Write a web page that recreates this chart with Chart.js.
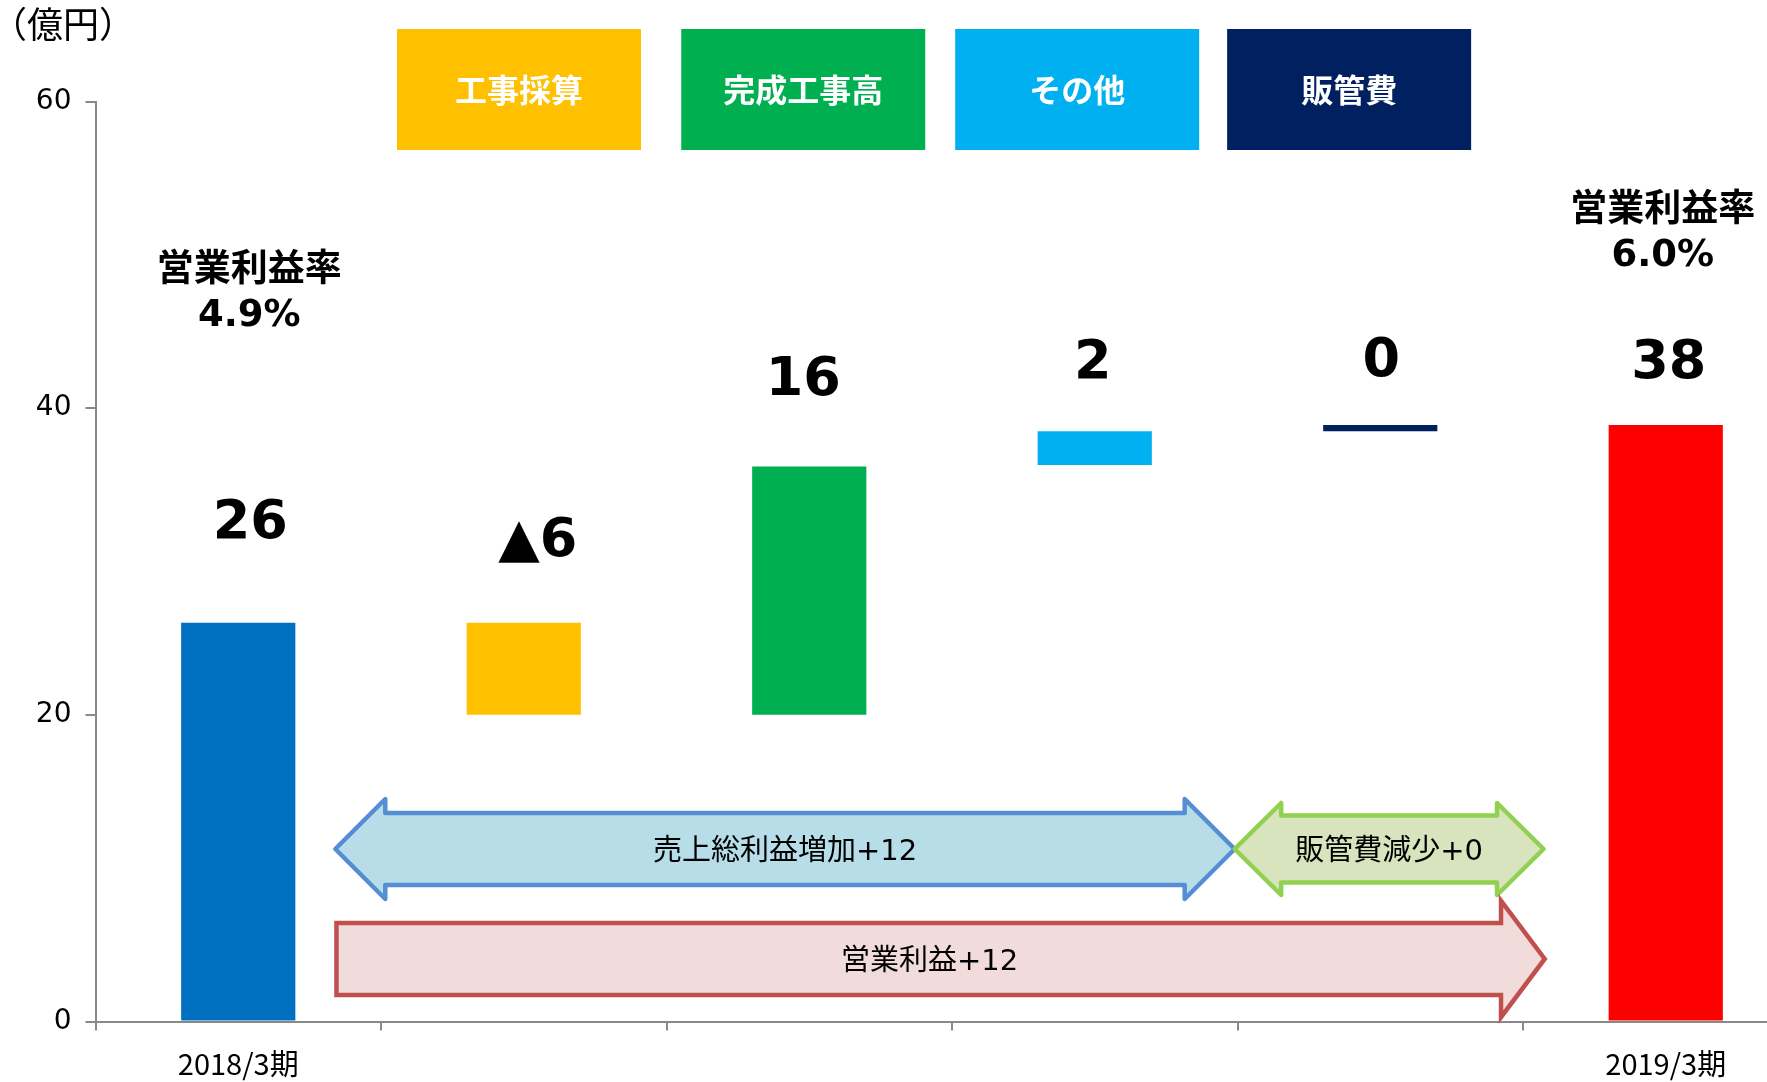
<!DOCTYPE html>
<html lang="ja">
<head>
<meta charset="utf-8">
<title>営業利益 増減要因</title>
<script src="https://cdn.jsdelivr.net/npm/chart.js@4.4.1/dist/chart.umd.min.js"></script>
<style>
  html, body { margin: 0; padding: 0; background: #fff; overflow: hidden; }
  #wrap { width: 1767px; height: 1082px; overflow: hidden; position: relative; }
  canvas { display: block; }
</style>
</head>
<body>
<div id="wrap"><canvas id="chart" width="1810" height="1082"></canvas></div>
<script>
// Categories on the x axis
const categories = ['2018/3期', '工事採算', '完成工事高', 'その他', '販管費', '2019/3期'];
// Floating bar ranges (億円)
const barLow  = [0, 20, 20, 36.3, 38.5, 0];
const barHigh = [26, 26, 36.2, 38.5, 38.9, 38.9];
const barColors = ['#0070C0', '#FFC000', '#00B050', '#00B0F0', '#002060', '#FF0000'];
// Value labels above each bar
const valueLabels = ['26', '▲6', '16', '2', '0', '38'];
// Y axis ticks
const yTicks = [0, 20, 40, 60];
// Header boxes for the four factors
const legendNames = categories.slice(1, 5);
const legendColors = barColors.slice(1, 5);
// Operating margin for first / last period
const marginTitle = '営業利益率';
const marginValues = ['4.9%', '6.0%'];
// Arrow captions
const arrowTexts = ['売上総利益増加+12', '販管費減少+0', '営業利益+12'];

// --- layout (category units on x, 億円 on y) ---
const valueLabelAt = [32.85, 31.65, 42.13, 43.25, 43.37, 43.28];
const valueLabelShift = [12, 14, -6, -2, 1, 3];
const marginLayout = [{ cat: 0, at: 49.18, shift: 11 }, { cat: 5, at: 53.09, shift: -3 }];
const legendCenters = [1.4834, 2.479, 3.4385, 4.391];
const arrowLayout = [
    { from: 0.84, to: 3.99, mid: 11.25, body: 2.35, head: 3.26, neck: 0.175, both: true,
      fill: '#B7DDE8', stroke: '#558ED5', join: 'round' },
    { from: 3.99, to: 5.072, mid: 11.25, body: 2.18, head: 3.0, neck: 0.163, both: true,
      fill: '#D7E4BD', stroke: '#92D050', join: 'round' },
    { from: 0.844, to: 5.076, mid: 4.08, body: 2.345, head: 3.795, neck: 0.153, both: false,
      fill: '#F2DCDB', stroke: '#C0504D', join: 'miter' }
];

const JP = "'Noto Sans CJK JP', sans-serif";
const LATIN = "'DejaVu Sans', 'Noto Sans CJK JP', sans-serif";

// draw text so its ink is centred on cy
function centerText(ctx, text, cx, cy, font, size, color) {
    ctx.font = font;
    ctx.fillStyle = color;
    ctx.textAlign = 'center';
    ctx.textBaseline = 'alphabetic';
    ctx.fillText(text, cx, cy + size * 0.365);
}

const overlay = {
    id: 'overlay',
    afterDatasetsDraw(chart) {
        const { ctx, scales: { x, y } } = chart;
        const n = categories.length;
        const ux = u => x.getPixelForDecimal(u / n);

        ctx.save();

        // arrows
        arrowLayout.forEach((a, i) => {
            const pts = [];
            const nL = a.from + a.neck, nR = a.to - a.neck;
            if (a.both) {
                pts.push([a.from, a.mid], [nL, a.mid + a.head], [nL, a.mid + a.body]);
            } else {
                pts.push([a.from, a.mid + a.body]);
            }
            pts.push([nR, a.mid + a.body], [nR, a.mid + a.head], [a.to, a.mid],
                     [nR, a.mid - a.head], [nR, a.mid - a.body]);
            if (a.both) {
                pts.push([nL, a.mid - a.body], [nL, a.mid - a.head]);
            } else {
                pts.push([a.from, a.mid - a.body]);
            }
            ctx.beginPath();
            pts.forEach((p, k) => {
                const px = ux(p[0]), py = y.getPixelForValue(p[1]);
                if (k === 0) ctx.moveTo(px, py); else ctx.lineTo(px, py);
            });
            ctx.closePath();
            ctx.fillStyle = a.fill;
            ctx.fill();
            ctx.lineWidth = 4.5;
            ctx.lineJoin = a.join;
            ctx.strokeStyle = a.stroke;
            ctx.stroke();

            const tu = a.both ? (a.from + a.to) / 2 : (a.from + a.to - a.neck / 2) / 2;
            centerText(ctx, arrowTexts[i], ux(tu), y.getPixelForValue(a.mid),
                       `29px ${LATIN}`, 29, '#000');
        });

        // value labels
        valueLabels.forEach((t, i) => {
            centerText(ctx, t, x.getPixelForValue(i) + valueLabelShift[i],
                       y.getPixelForValue(valueLabelAt[i]), `bold 54px ${LATIN}`, 54, '#000');
        });

        // operating margin labels
        marginLayout.forEach((m, i) => {
            const cx = x.getPixelForValue(m.cat) + m.shift;
            const cy = y.getPixelForValue(m.at);
            centerText(ctx, marginTitle, cx, cy, `bold 37px ${JP}`, 37, '#000');
            centerText(ctx, marginValues[i], cx, cy + 45, `bold 37px ${LATIN}`, 37, '#000');
        });

        // header boxes
        legendNames.forEach((name, i) => {
            const cx = ux(legendCenters[i]);
            ctx.fillStyle = legendColors[i];
            ctx.fillRect(cx - 122, 29, 244, 121);
            centerText(ctx, name, cx, 90, `bold 32px ${JP}`, 32, '#fff');
        });

        // unit
        centerText(ctx, '（億円）', 63, 25, `36px ${JP}`, 36, '#000');

        ctx.restore();
    }
};

new Chart(document.getElementById('chart'), {
    type: 'bar',
    data: {
        labels: categories,
        datasets: [{
            data: barLow.map((lo, i) => [lo, barHigh[i]]),
            backgroundColor: barColors,
            borderWidth: 0,
            barPercentage: 0.4,
            categoryPercentage: 1.0
        }]
    },
    options: {
        responsive: false,
        animation: false,
        layout: { padding: { left: 0, right: 1.5, top: 101.5, bottom: 0 } },
        plugins: {
            legend: { display: false },
            tooltip: { enabled: false }
        },
        scales: {
            x: {
                grid: { offset: true, drawOnChartArea: false, tickLength: 9, color: '#898989', lineWidth: 2 },
                border: { color: '#898989', width: 2 },
                ticks: {
                    autoSkip: false,
                    maxRotation: 0,
                    padding: 16,
                    color: '#000',
                    font: { family: JP, size: 29 },
                    callback: (v, i) => (i === 0 || i === categories.length - 1) ? categories[i] : ''
                },
                afterFit: s => { s.height = 60.5; }
            },
            y: {
                min: yTicks[0],
                max: yTicks[yTicks.length - 1],
                afterBuildTicks: s => { s.ticks = yTicks.map(v => ({ value: v })); },
                grid: { drawOnChartArea: false, tickLength: 10, color: '#898989', lineWidth: 2 },
                border: { color: '#898989', width: 2 },
                ticks: {
                    padding: 14,
                    color: '#000',
                    font: { family: "'DejaVu Sans', sans-serif", size: 28 }
                },
                afterFit: s => { s.width = 95.5; }
            }
        }
    },
    plugins: [overlay]
});
</script>
</body>
</html>
